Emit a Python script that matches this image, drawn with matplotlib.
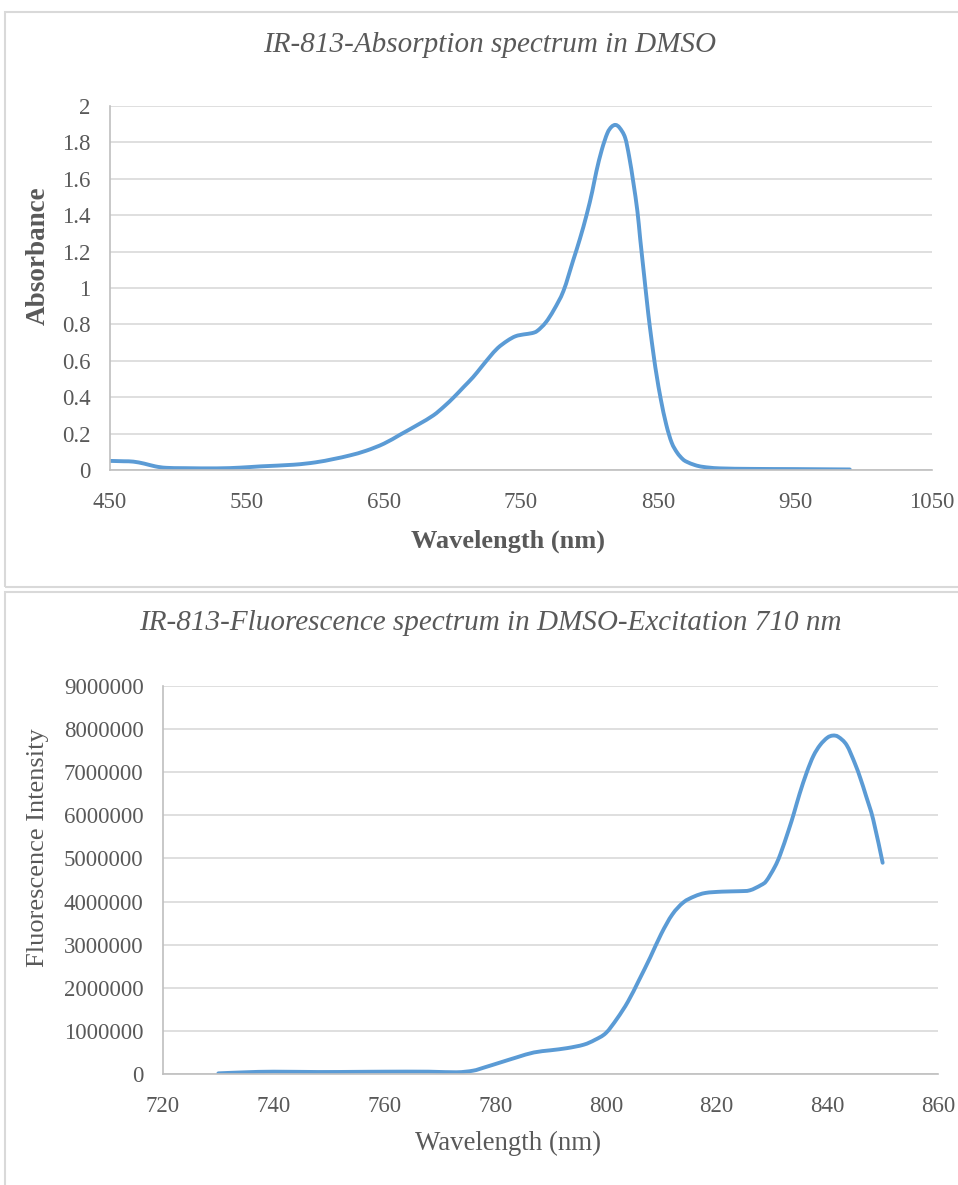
import matplotlib
matplotlib.use("Agg")
from matplotlib import pyplot as plt
from matplotlib.patches import Rectangle, PathPatch
from matplotlib.path import Path

plt.rcParams['font.family'] = ['Liberation Serif', 'DejaVu Serif']

# absorption spectrum (nm, absorbance)
abs_wl = [450, 460, 467, 475, 483, 491, 505, 528, 545, 560, 584, 600, 613, 625, 637,
          650, 662, 675, 686, 694, 701, 708, 715, 721, 727, 733, 740, 746, 752, 758,
          762, 768, 774, 781, 788, 793, 798, 802, 805, 809, 813, 816, 819, 822, 826,
          829, 832, 835, 837, 840, 842, 844, 847, 849, 852, 856, 860, 864, 868, 871,
          877, 883, 895, 920, 950, 990]
abs_val = [0.050, 0.048, 0.046, 0.035, 0.020, 0.012, 0.010, 0.009, 0.013, 0.020, 0.029,
           0.042, 0.060, 0.080, 0.106, 0.145, 0.195, 0.25, 0.30, 0.35, 0.40, 0.455,
           0.51, 0.565, 0.62, 0.67, 0.71, 0.735, 0.745, 0.752, 0.765, 0.81, 0.88,
           0.984, 1.15, 1.27, 1.405, 1.53, 1.64, 1.76, 1.85, 1.885, 1.896, 1.88, 1.826,
           1.72, 1.58, 1.42, 1.27, 1.06, 0.92, 0.79, 0.62, 0.52, 0.39, 0.25, 0.15,
           0.095, 0.06, 0.045, 0.027, 0.017, 0.009, 0.006, 0.005, 0.003]

# fluorescence spectrum (nm, intensity)
fl_wl = [730, 735, 740, 748, 755, 760, 768, 773, 776, 778, 781, 784, 787, 790, 793,
         796, 798, 800, 802, 804, 806, 808, 810, 812, 814, 816, 818, 821, 824, 826,
         828, 829, 830.5, 831.5, 833, 834, 835, 836.3, 837.5, 838.7, 840, 841, 842,
         843.5, 845, 846, 847, 848.3, 850]
fl_val = [15000, 40000, 54000, 46000, 50000, 54000, 54000, 40000, 77000, 150000,
          270000, 390000, 500000, 550000, 600000, 680000, 790000, 950000, 1280000,
          1680000, 2180000, 2700000, 3250000, 3700000, 3980000, 4120000, 4200000,
          4230000, 4240000, 4260000, 4380000, 4480000, 4800000, 5090000, 5650000,
          6060000, 6500000, 7000000, 7380000, 7630000, 7800000, 7850000, 7820000,
          7630000, 7200000, 6850000, 6450000, 5900000, 4900000]

txt = '#595959'
line_col = '#5B9BD5'
grid_col = '#D9D9D9'

fig = plt.figure(figsize=(9.58, 11.85), dpi=100)

# chart frames
fig.patches.append(Rectangle((5 / 958, 1 - 587 / 1185), 1.0, 575 / 1185, transform=fig.transFigure,
                             fill=False, edgecolor=grid_col, linewidth=1.5))
fig.patches.append(Rectangle((5 / 958, -0.01), 1.0, 1 - 592 / 1185 + 0.01, transform=fig.transFigure,
                             fill=False, edgecolor=grid_col, linewidth=1.5))


def smooth_line(ax, xs, ys):
    # excel-like smoothed line: catmull-rom segments drawn as cubic beziers
    verts = [(xs[0], ys[0])]
    codes = [Path.MOVETO]
    n = len(xs)
    for i in range(n - 1):
        x0, y0 = (xs[i - 1], ys[i - 1]) if i > 0 else (xs[i], ys[i])
        x1, y1 = xs[i], ys[i]
        x2, y2 = xs[i + 1], ys[i + 1]
        x3, y3 = (xs[i + 2], ys[i + 2]) if i + 2 < n else (x2, y2)
        verts += [(x1 + (x2 - x0) / 6, y1 + (y2 - y0) / 6),
                  (x2 - (x3 - x1) / 6, y2 - (y3 - y1) / 6),
                  (x2, y2)]
        codes += [Path.CURVE4] * 3
    ax.add_patch(PathPatch(Path(verts, codes), fill=False, edgecolor=line_col,
                           linewidth=2.8, capstyle='round', joinstyle='round'))


def style(ax):
    for s in ['top', 'right']:
        ax.spines[s].set_visible(False)
    for s in ['left', 'bottom']:
        ax.spines[s].set_color('#BFBFBF')
        ax.spines[s].set_linewidth(1.2)
    ax.grid(axis='y', color=grid_col, linewidth=1.2)
    ax.set_axisbelow(True)
    ax.tick_params(length=0, labelsize=16.5, labelcolor=txt)
    ax.tick_params(axis='x', pad=16)
    ax.tick_params(axis='y', pad=14)


ax1 = fig.add_axes([110 / 958, 1 - 470 / 1185, 822 / 958, 364 / 1185])
smooth_line(ax1, abs_wl, abs_val)
ax1.set_xlim(450, 1050)
ax1.set_ylim(0, 2)
ax1.set_xticks(range(450, 1051, 100))
ax1.set_yticks([0, 0.2, 0.4, 0.6, 0.8, 1, 1.2, 1.4, 1.6, 1.8, 2])
ax1.set_yticklabels(['0', '0.2', '0.4', '0.6', '0.8', '1', '1.2', '1.4', '1.6', '1.8', '2'])
style(ax1)

ax2 = fig.add_axes([163 / 958, 1 - 1074 / 1185, 775 / 958, 388 / 1185])
smooth_line(ax2, fl_wl, fl_val)
ax2.set_xlim(720, 860)
ax2.set_ylim(0, 9000000)
ax2.set_xticks(range(720, 861, 20))
ax2.set_yticks(range(0, 9000001, 1000000))
ax2.set_yticklabels([str(v) for v in range(0, 9000001, 1000000)])
style(ax2)

fig.text(490 / 958, 1 - 45 / 1185, 'IR-813-Absorption spectrum in DMSO', ha='center', va='center',
         fontsize=21, style='italic', color=txt)
fig.text(490 / 958, 1 - 623 / 1185, 'IR-813-Fluorescence spectrum in DMSO-Excitation 710 nm',
         ha='center', va='center', fontsize=21, style='italic', color=txt)
fig.text(508 / 958, 1 - 541 / 1185, 'Wavelength (nm)', ha='center', va='center',
         fontsize=19, fontweight='bold', color=txt)
fig.text(508 / 958, 1 - 1143 / 1185, 'Wavelength (nm)', ha='center', va='center',
         fontsize=19.4, color=txt)
fig.text(38 / 958, 1 - 256 / 1185, 'Absorbance', ha='center', va='center', rotation=90,
         fontsize=19.5, fontweight='bold', color=txt)
fig.text(38 / 958, 1 - 848 / 1185, 'Fluorescence Intensity', ha='center', va='center', rotation=90,
         fontsize=19, color=txt)

fig.savefig('out.png', dpi=100, facecolor='white')
